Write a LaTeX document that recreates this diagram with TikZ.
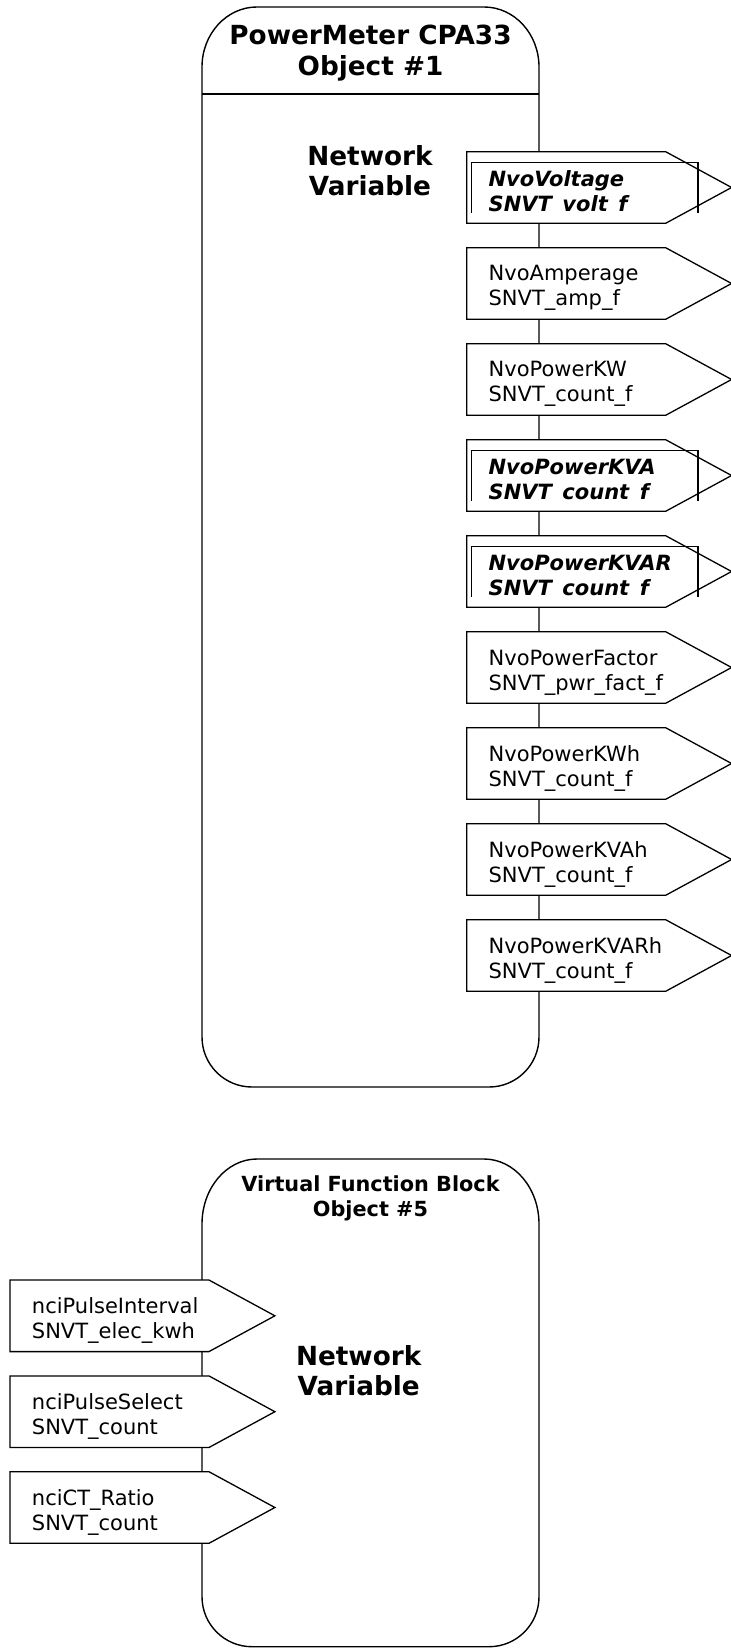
\documentclass[tikz,border=0pt]{standalone}
\usepackage{fontspec}
\setmainfont{DejaVu Sans}
\usepackage{tikz}
\usetikzlibrary{shapes.symbols}
\hyphenpenalty=10000
\tikzset{
    every node/.append style={inner sep=0pt},
    outline/.style={draw=black,line width=0.7pt},
    nvbox/.style={signal,signal to=east,signal pointer angle=57,draw=black,line width=0.65pt,fill=white,anchor=west,
        minimum height=35.8pt,inner xsep=11pt,inner ysep=0pt,text width=77.5pt,align=left,
        text height=12.2pt,text depth=14.7pt,font=\fontsize{10.5pt}{12.5pt}\selectfont},
    nvboxem/.style={nvbox,text height=13.9pt,font=\fontsize{10.5pt}{12.5pt}\selectfont\bfseries\itshape},
    emframe/.style={draw=black,line width=0.65pt},
    blocktitle/.style={anchor=base,align=center,font=\fontsize{13.15pt}{15.5pt}\selectfont\bfseries},
    vfbtitle/.style={anchor=base,align=center,font=\fontsize{10.4pt}{12.5pt}\selectfont\bfseries},
    nvlabel/.style={anchor=base,align=center,font=\fontsize{13.15pt}{15pt}\selectfont\bfseries},
}

\begin{document}
\begin{tikzpicture}[x=0.5pt,y=-0.5pt]
                \useasboundingbox (0,0) rectangle (731,1652);

                % PowerMeter block
                \draw[outline] (202,67) arc[start angle=180,end angle=270,x radius=55,y radius=60] -- (484,7)
                    arc[start angle=270,end angle=360,x radius=55,y radius=60] -- (539,1037)
                    arc[start angle=0,end angle=90,radius=50] -- (252,1087)
                    arc[start angle=90,end angle=180,radius=50] -- cycle;
                \draw[outline] (202,94) -- (539,94);
                \node[blocktitle] (meterTitle) at (370.5,76) {PowerMeter CPA33\\Object \#1};
                \node[nvlabel] (meterNV) at (370,195.5) {Network\\Variable};

                \node[nvboxem] (nvoVolt)  at (466,187.5) {NvoVoltage\\SNVT\phantom{\_}volt\phantom{\_}f};
                \node[nvbox]   (nvoAmp)   at (466,283.5) {NvoAmperage\\SNVT\_amp\_f};
                \node[nvbox]   (nvoKW)    at (466,379.5) {NvoPowerKW\\SNVT\_count\_f};
                \node[nvboxem] (nvoKVA)   at (466,475.5) {NvoPowerKVA\\SNVT\phantom{\_}count\phantom{\_}f};
                \node[nvboxem] (nvoKVAR)  at (466,571.5) {NvoPowerKVAR\\SNVT\phantom{\_}count\phantom{\_}f};
                \node[nvbox]   (nvoPF)    at (466,667.5) {NvoPowerFactor\\SNVT\_pwr\_fact\_f};
                \node[nvbox]   (nvoKWh)   at (466,763.5) {NvoPowerKWh\\SNVT\_count\_f};
                \node[nvbox]   (nvoKVAh)  at (466,859.5) {NvoPowerKVAh\\SNVT\_count\_f};
                \node[nvbox]   (nvoKVARh) at (466,955.5) {NvoPowerKVARh\\SNVT\_count\_f};

                \draw[emframe] ([shift={(5.7,25.2)}]nvoVolt.west) |- ([shift={(232,-24.8)}]nvoVolt.west) -- ([shift={(232,25.2)}]nvoVolt.west);
                \draw[emframe] ([shift={(5.7,25.2)}]nvoKVA.west) |- ([shift={(232,-24.8)}]nvoKVA.west) -- ([shift={(232,25.2)}]nvoKVA.west);
                \draw[emframe] ([shift={(5.7,25.2)}]nvoKVAR.west) |- ([shift={(232,-24.8)}]nvoKVAR.west) -- ([shift={(232,25.2)}]nvoKVAR.west);

                % Virtual function block
                \draw[outline] (202,1224) arc[start angle=180,end angle=270,x radius=55,y radius=65] -- (484,1159)
                    arc[start angle=270,end angle=360,x radius=55,y radius=65] -- (539,1596.7)
                    arc[start angle=0,end angle=90,radius=50] -- (252,1646.7)
                    arc[start angle=90,end angle=180,radius=50] -- cycle;
                \node[vfbtitle] (vfbTitle) at (370.5,1216.7) {Virtual Function Block\\Object \#5};
                \node[nvlabel] (vfbNV) at (358.7,1395) {Network\\Variable};

                \node[nvbox] (nciPulseInt) at (9.3,1315.8) {nciPulseInterval\\SNVT\_elec\_kwh};
                \node[nvbox] (nciPulseSel) at (9.3,1411.7) {nciPulseSelect\\SNVT\_count};
                \node[nvbox] (nciCT)       at (9.3,1507.5) {nciCT\_Ratio\\SNVT\_count};
\end{tikzpicture}
\end{document}
